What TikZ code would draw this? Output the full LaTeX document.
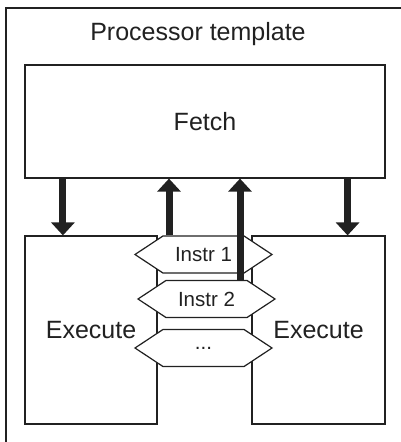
\documentclass[tikz,border=0pt]{standalone}
\usepackage{fontspec}
\setmainfont{Liberation Sans}
\usetikzlibrary{arrows.meta, positioning, shapes.symbols}

\begin{document}
\begin{tikzpicture}[
  x=1pt, y=-1pt, font=\fontsize{25}{30}\selectfont, text=black!87,
  box/.style={draw=black!87, line width=1.2pt, fill=white, align=center, inner sep=0pt},
  hexbox/.style={draw=black!87, line width=1.2pt, fill=white, signal,
                 signal to=west and east, signal pointer angle=67,
                 minimum width=137pt, minimum height=37pt, inner sep=0pt,
                 font=\fontsize{20.5}{24}\selectfont},
  arr/.style={draw=black!87, line width=7pt, -{Triangle[width=23pt, length=13pt]}}]
\useasboundingbox (0,0) rectangle (400,442);
% outer frame, cut by the page on the right and bottom
\draw[black!87, line width=1.5pt] (6,450) -- (6,8) -- (410,8);
\node (title) at (198,34) {Processor template};
\node[box, minimum width=360pt, minimum height=113pt] (fetch) at (205,121.5) {Fetch};
\node[box, minimum width=132pt, minimum height=188pt] (exec1) at (91,330) {Execute};
\node[box, minimum width=133pt, minimum height=188pt] (exec2) at (318.5,330) {Execute};
\node[hexbox] (instr1) at (203.5,254.5) {Instr 1};
\node[hexbox] (instr2) at (206.5,299) {Instr 2};
\node[hexbox] (instr3) at (203.5,348) {...};
\draw[arr] ([xshift=38.5pt]fetch.south west) -- ([xshift=38.5pt]exec1.north west);
\draw[arr] ([xshift=-38pt]fetch.south east) -- ([xshift=-38pt]exec2.north east);
\draw[arr] ([xshift=-34.5pt]instr1.north) -- ([xshift=-34.5pt]instr1.north |- fetch.south);
\draw[arr] ([xshift=33.5pt]instr2.north) -- ([xshift=33.5pt]instr2.north |- fetch.south);
\end{tikzpicture}
\end{document}
